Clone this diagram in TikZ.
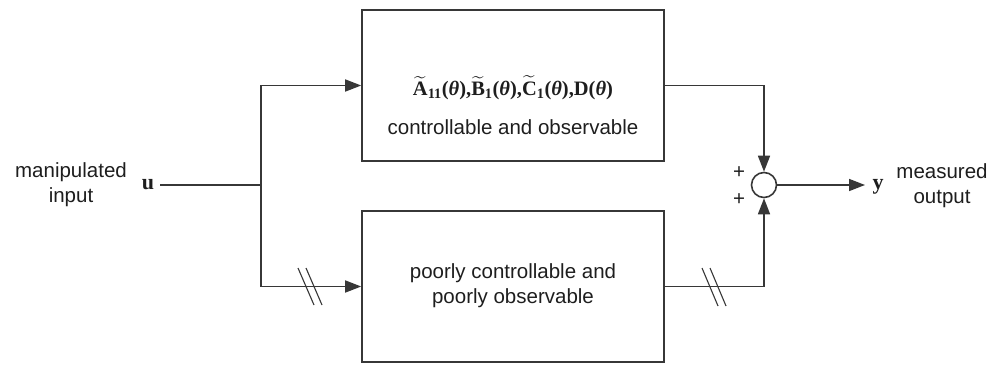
\documentclass[tikz,border=0pt]{standalone}
\usepackage{fontspec}
\usepackage{amsmath}
\setmainfont{Liberation Sans}
\newfontfamily\serifb{Liberation Serif}
\usetikzlibrary{arrows.meta}
\definecolor{ln}{RGB}{55,55,55}
\definecolor{tx}{RGB}{30,30,30}
\newcommand{\tbx}[1]{\widetilde{\text{\serifb\bfseries #1}}}
\newcommand{\sbx}[1]{\text{\serifb\bfseries #1}}
\newcommand{\thb}{\text{\serifb\bfseries(\itshape θ\upshape)}}
\begin{document}
\begin{tikzpicture}[x=1pt,y=-1pt,
  every node/.style={text=tx,font=\fontsize{20.5}{25}\selectfont},
  blk/.style={draw=ln,line width=1.6pt,minimum width=302pt,minimum height=151pt,inner sep=0pt},
  wire/.style={draw=ln,line width=1.6pt},
  arr/.style={wire,-{Triangle[length=16pt,width=12pt]}},
  sl/.style={draw=ln,line width=1.1pt}]
\useasboundingbox (0,0) rectangle (1003,364);
\node[blk] (topbox) at (513,85.5) {};
\node[blk] (botbox) at (513,286.5) {};
\node (formula) at (513,88) {$\tbx{A}_{\sbx{11}}\thb\sbx{,}\tbx{B}_{\sbx{1}}\thb\sbx{,}\tbx{C}_{\sbx{1}}\thb\sbx{,}\sbx{D}\thb$};
\node (co) at (513,127) {controllable and observable};
\node[align=center] (pc) at (513,286) {poorly controllable and\\poorly observable};
\node[align=center] (mi) at (71,185) {manipulated\\input};
\node[inner sep=0pt,font=\fontsize{22}{25}\selectfont] (u) at (148,185) {\serifb\bfseries u};
\node[align=center] (mo) at (942,186) {measured\\output};
\node[inner sep=0pt,font=\fontsize{22}{25}\selectfont] (y) at (878,187) {\serifb\bfseries y};
\node[draw=ln,line width=1.6pt,circle,minimum size=25pt,inner sep=0pt] (sum) at (764,185) {};
\node (p1) at (739,173) {+};
\node (p2) at (739,200) {+};
\coordinate (in) at (160,185);
\coordinate (split) at (261,185);
\coordinate (yin) at (865,185);
\draw[wire] (in) -- (split);
\draw[arr] (split) |- (topbox.west);
\draw[arr] (split) |- (botbox.west);
\draw[arr] (topbox.east) -| (sum.north);
\draw[arr] (botbox.east) -| (sum.south);
\draw[arr] (sum.east) -- (yin);
\draw[sl] (298,268) -- (314,305);
\draw[sl] (306,268) -- (322,305);
\draw[sl] (702,268) -- (718,306);
\draw[sl] (710,268) -- (726,306);
\end{tikzpicture}
\end{document}
